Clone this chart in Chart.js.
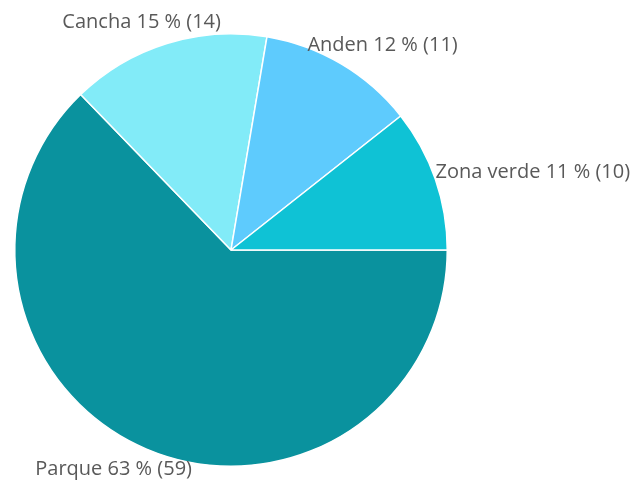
<!DOCTYPE html>
<html>
<head>
<meta charset="utf-8">
<script src="https://cdn.jsdelivr.net/npm/chart.js@4"></script>
<style>
  html, body { margin: 0; padding: 0; background: #fff; }
  #wrap { width: 636px; height: 485px; }
</style>
</head>
<body>
<div id="wrap"><canvas id="myChart" width="636" height="485"></canvas></div>
<script>
const categories = ['Parque', 'Cancha', 'Anden', 'Zona verde'];
const values = [59, 14, 11, 10];
const colors = ['#0a929e', '#82ebf8', '#5ecbfd', '#0fc2d5'];

const total = values.reduce((a, b) => a + b, 0);

// labels drawn outside each slice, pushed away from the pie along the slice middle
const outsideLabels = {
  id: 'outsideLabels',
  afterDatasetsDraw(chart) {
    const ctx = chart.ctx;
    const meta = chart.getDatasetMeta(0);
    ctx.save();
    ctx.font = '20px "Open Sans"';
    ctx.fillStyle = '#595959';
    ctx.textAlign = 'center';
    ctx.textBaseline = 'middle';
    meta.data.forEach((arc, i) => {
      const pct = Math.round(values[i] / total * 100);
      const text = categories[i] + ' ' + pct + ' % (' + values[i] + ')';
      const w = ctx.measureText(text).width;
      const mid = (arc.startAngle + arc.endAngle) / 2;
      const c = Math.cos(mid), s = Math.sin(mid);
      const r = arc.outerRadius + 6;
      ctx.fillText(text, arc.x + c * r + c * w / 2, arc.y + s * r + s * 16);
    });
    ctx.restore();
  }
};

window.onload = function () {
  const data = {
    labels: categories,
    datasets: [{
      data: values,
      backgroundColor: colors,
      borderColor: '#ffffff',
      borderWidth: 1.5
    }]
  };

  const config = {
    type: 'pie',
    data: data,
    options: {
      responsive: false,
      animation: false,
      rotation: 90,
      layout: { padding: { left: 14, right: 188, top: 33, bottom: 18 } },
      plugins: {
        legend: { display: false },
        tooltip: { enabled: false }
      }
    },
    plugins: [outsideLabels]
  };

  new Chart(document.getElementById('myChart'), config);
};
</script>
</body>
</html>
